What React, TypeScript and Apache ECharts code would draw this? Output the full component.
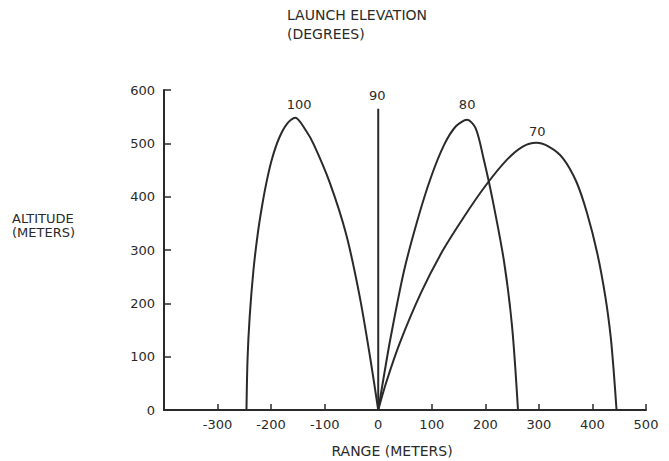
import React, { useEffect, useRef } from "react";
import * as echarts from "echarts";

// Range (m) and altitude (m), per launch elevation
const deg100X = [0, -15, -35, -60, -90, -120, -135, -155, -170, -185, -198, -208, -217, -225, -233, -240, -244, -246];
const deg100Y = [0, 98, 215, 330, 425, 497, 524, 548, 537, 510, 472, 430, 382, 330, 262, 175, 95, 0];

const deg90X = [0, 0];
const deg90Y = [0, 565];

const deg80X = [0, 12, 23, 48, 73, 98, 123, 145, 166, 182, 197, 213, 235, 250, 261];
const deg80Y = [0, 72, 135, 260, 355, 435, 497, 532, 544, 528, 470, 397, 278, 156, 0];

const deg70X = [0, 15, 40, 80, 120, 160, 200, 240, 270, 295, 320, 345, 370, 390, 409, 424, 434, 440, 445];
const deg70Y = [0, 52, 125, 220, 298, 362, 420, 469, 494, 501, 493, 472, 428, 369, 294, 213, 138, 69, 0];

const elevationLabels = ["100", "90", "80", "70"];

const xMin = -400;
const xMax = 500;
const xStep = 100;
const yMin = 0;
const yMax = 600;
const yStep = 100;

const titleLines = ["LAUNCH ELEVATION", "(DEGREES)"];
const yName = ["ALTITUDE", "(METERS)"];
const xName = "RANGE (METERS)";

const INK = "#2a2a2a";
const FONT = "DejaVu Sans";

function pairs(xs: number[], ys: number[]) {
  return xs.map((x, i) => [x, ys[i]]);
}

function peak(xs: number[], ys: number[]) {
  let k = 0;
  ys.forEach((y, i) => {
    if (y > ys[k]) k = i;
  });
  return [xs[k], ys[k]];
}

export default function App() {
  const ref = useRef<HTMLDivElement>(null);

  useEffect(() => {
    if (!ref.current) return;
    const chart = echarts.init(ref.current, undefined, { renderer: "svg" });

    const curves = [
      { xs: deg100X, ys: deg100Y, label: elevationLabels[0], off: [4, -6] },
      { xs: deg90X, ys: deg90Y, label: elevationLabels[1], off: [-1, -6] },
      { xs: deg80X, ys: deg80Y, label: elevationLabels[2], off: [0, -8] },
      { xs: deg70X, ys: deg70Y, label: elevationLabels[3], off: [1, -4] },
    ];

    const series = curves.map((c) => ({
      type: "line",
      name: c.label,
      data: pairs(c.xs, c.ys),
      smooth: 0.3,
      smoothMonotone: "none",
      showSymbol: false,
      lineStyle: { color: INK, width: 2 },
      silent: true,
      markPoint: {
        symbol: "circle",
        symbolSize: 1,
        itemStyle: { color: "rgba(0,0,0,0)" },
        label: {
          show: true,
          position: "top",
          distance: 0,
          offset: c.off,
          formatter: c.label,
          color: INK,
          fontFamily: FONT,
          fontSize: 13,
        },
        data: [{ coord: peak(c.xs, c.ys), value: c.label }],
      },
    }));

    chart.setOption({
      animation: false,
      backgroundColor: "#ffffff",
      grid: { left: 164, top: 90, width: 482, height: 320, containLabel: false },
      xAxis: {
        type: "value",
        min: xMin,
        max: xMax,
        interval: xStep,
        axisLine: { show: true, onZero: false, lineStyle: { color: INK, width: 2 } },
        axisTick: { show: true, inside: true, length: 6, lineStyle: { color: INK, width: 1.5 } },
        splitLine: { show: false },
        axisLabel: {
          color: INK,
          fontFamily: FONT,
          fontSize: 13,
          margin: 8,
          formatter: (v: number) => (v === xMin ? "" : String(v)),
        },
      },
      yAxis: {
        type: "value",
        min: yMin,
        max: yMax,
        interval: yStep,
        axisLine: { show: true, onZero: false, lineStyle: { color: INK, width: 2 } },
        axisTick: { show: true, inside: true, length: 7, lineStyle: { color: INK, width: 1.5 } },
        splitLine: { show: false },
        axisLabel: { color: INK, fontFamily: FONT, fontSize: 13, margin: 9 },
      },
      graphic: [
        {
          type: "text",
          x: 287,
          y: 5,
          style: { text: titleLines.join("\n"), fill: INK, font: `14px ${FONT}`, lineHeight: 19 },
        },
        {
          type: "text",
          x: 12,
          y: 211,
          style: { text: yName.join("\n"), fill: INK, font: `13px ${FONT}`, lineHeight: 14 },
        },
        {
          type: "text",
          x: 392,
          y: 451,
          style: { text: xName, fill: INK, font: `14px ${FONT}`, align: "center", verticalAlign: "middle" },
        },
      ],
      series,
    });

    return () => chart.dispose();
  }, []);

  return (
    <div
      ref={ref}
      style={{ position: "fixed", left: 0, top: 0, width: 669, height: 461, background: "#fff" }}
    />
  );
}
